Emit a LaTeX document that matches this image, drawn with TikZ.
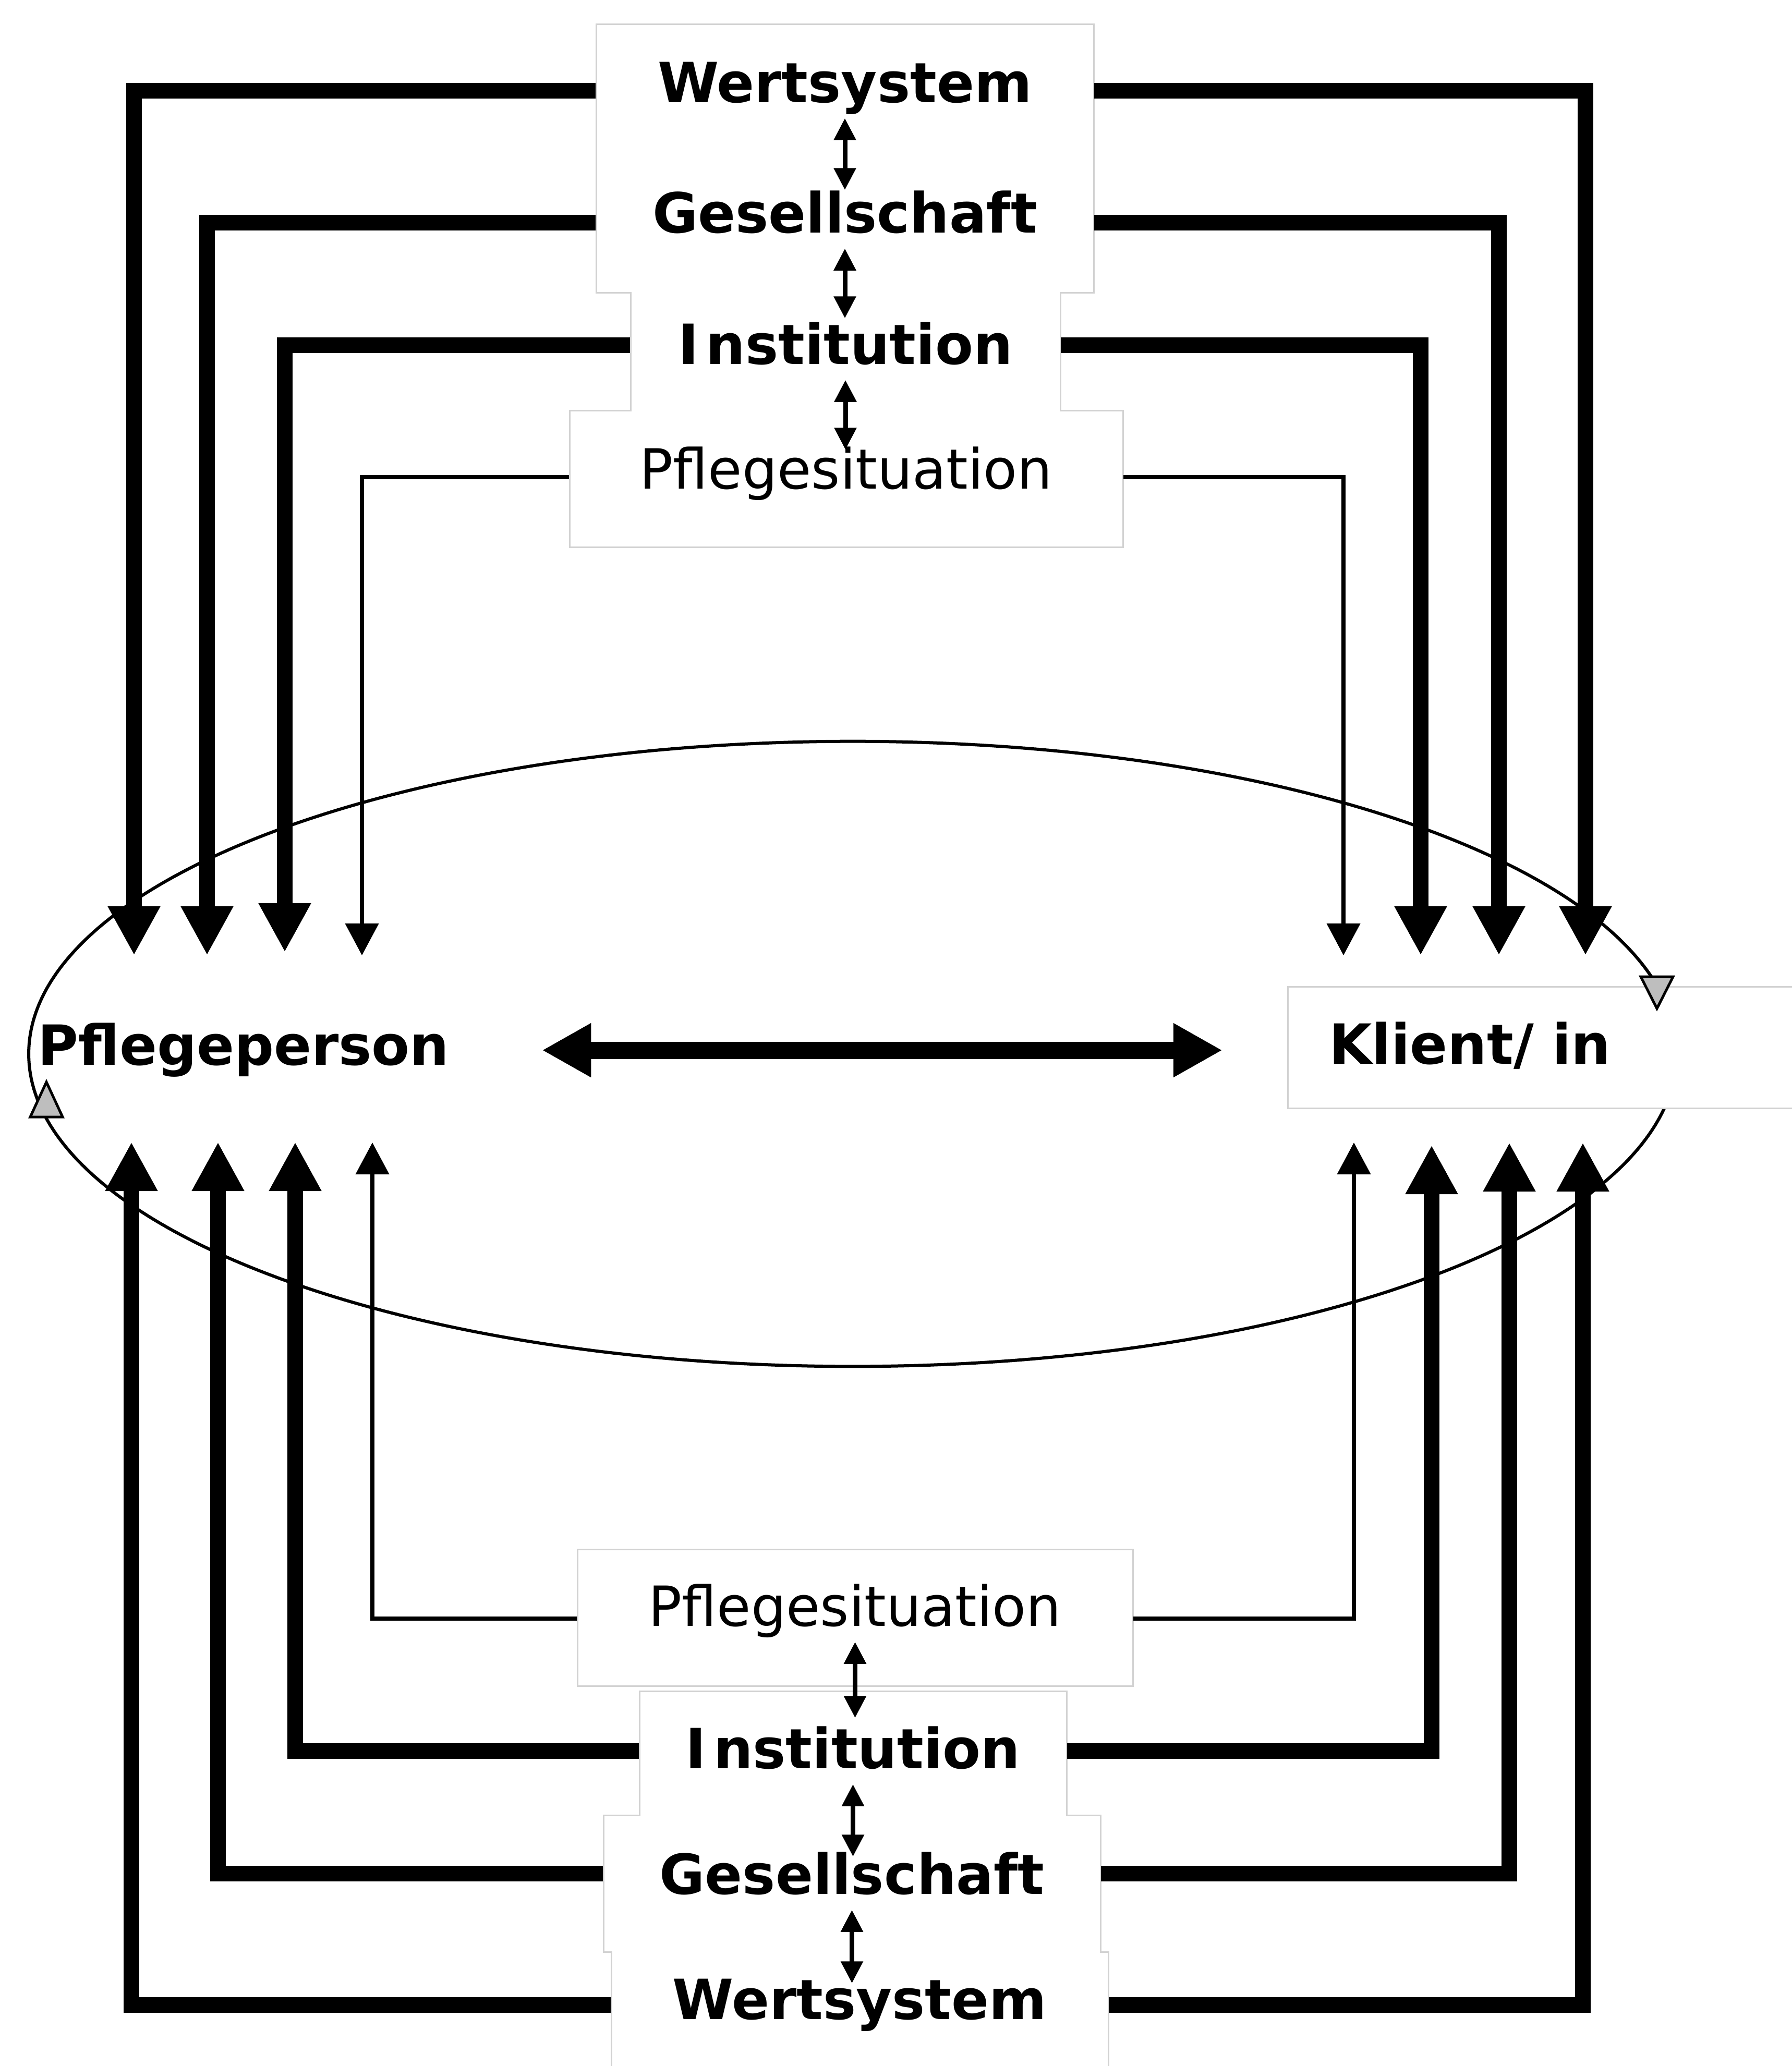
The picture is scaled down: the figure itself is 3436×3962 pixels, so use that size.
\documentclass[tikz,border=0pt]{standalone}
\usepackage{fontspec}
\setmainfont{DejaVu Sans}
\usetikzlibrary{arrows.meta}
\definecolor{boxgray}{HTML}{D2D2D2}
\definecolor{tipgray}{HTML}{BEBEBE}
\begin{document}
\begin{tikzpicture}[x=0.01cm,y=-0.01cm,
  every node/.style={inner sep=0pt},
  lvl/.style 2 args={minimum width=#1, text height=#2, text depth=0.30cm,
    font=\fontsize{30.2pt}{36pt}\selectfont\bfseries},
  lvn/.style 2 args={minimum width=#1, text height=#2, text depth=0.30cm,
    font=\fontsize{30.2pt}{36pt}\selectfont},
  thickarr/.style={line width=0.30cm, -{Triangle[length=0.94cm,width=0.94cm]}},
  thinarr/.style={line width=0.075cm, -{Triangle[length=0.61cm,width=0.63cm]}},
  smalldbl/.style={line width=0.09cm, {Triangle[length=0.42cm,width=0.41cm]}-{Triangle[length=0.42cm,width=0.41cm]}},
  bigdbl/.style={line width=0.33cm, {Triangle[length=0.94cm,width=0.97cm]}-{Triangle[length=0.94cm,width=0.97cm]}},
  boxline/.style={draw=boxgray, line width=0.03cm},
  marker/.style={fill=tipgray, draw=black, line width=0.05cm, line join=miter}]

\fill[white] (0,0) rectangle (3436,3962);
\useasboundingbox (0,0) rectangle (3436,3962);

% box outlines
\draw[boxline] (1143,46) -- (2097,46) -- (2097,561) -- (2033,561) -- (2033,787)
  -- (2153,787) -- (2153,1049) -- (1092,1049) -- (1092,787) -- (1209,787)
  -- (1209,561) -- (1143,561) -- cycle;
\draw[boxline] (1107,2971) rectangle (2172,3233);
\draw[boxline] (1172,4000) -- (1172,3743) -- (1157,3743) -- (1157,3481) -- (1226,3481)
  -- (1226,3243) -- (2045,3243) -- (2045,3481) -- (2110,3481) -- (2110,3743)
  -- (2125,3743) -- (2125,4000);

% ellipse
\draw[line width=0.06cm] (1635,2021) ellipse [x radius=15.79cm, y radius=5.99cm];

% top nodes
\node[lvl={9.54cm}{0.74cm}] (tW) at (1620,174) {Wertsystem};
\node[lvl={9.54cm}{0.68cm}] (tG) at (1620,427) {Gesellschaft};
\node[lvl={8.24cm}{1.02cm}] (tI) at (1621,662) {I\kern0.13em nstitution};
\node[lvn={10.61cm}{0.74cm}] (tP) at (1622.5,915) {Pflegesituation};

% bottom nodes
\node[lvn={10.65cm}{0.58cm}] (bP) at (1639.5,3104) {Pflegesituation};
\node[lvl={8.19cm}{0.96cm}] (bI) at (1635.5,3358) {I\kern0.13em nstitution};
\node[lvl={9.53cm}{1.08cm}] (bG) at (1633.5,3593) {Gesellschaft};
\node[lvl={9.53cm}{0.84cm}] (bW) at (1648.5,3845) {Wertsystem};

% middle nodes
\node[font=\fontsize{30.2pt}{36pt}\selectfont\bfseries, text height=0.86cm, text depth=0.30cm]
  (pp) at (467,2014) {Pflegeperson};
\node[font=\fontsize{30.2pt}{36pt}\selectfont\bfseries, anchor=west, draw=boxgray, fill=white,
  line width=0.03cm, text width=9cm, align=left, inner xsep=0.79cm, inner ysep=0.55cm,
  text height=0.92cm, text depth=0.30cm] (kl) at (2468,2009) {Klient/ in};

% ellipse direction markers
\draw[marker] (89,2075) -- (120,2142) -- (58,2142) -- cycle;
\draw[marker] (3177,1934) -- (3208,1873) -- (3146,1873) -- cycle;

% arrow end points
\coordinate (tWl) at (257,1832);  \coordinate (tWr) at (3040,1832);
\coordinate (tGl) at (397,1832);  \coordinate (tGr) at (2874,1832);
\coordinate (tIl) at (546,1826);  \coordinate (tIr) at (2724,1832);
\coordinate (tPl) at (694,1832);  \coordinate (tPr) at (2576,1832);
\coordinate (bWl) at (252,2190);  \coordinate (bWr) at (3035,2191);
\coordinate (bGl) at (418,2190);  \coordinate (bGr) at (2894,2191);
\coordinate (bIl) at (566,2190);  \coordinate (bIr) at (2745,2196);
\coordinate (bPl) at (714,2191);  \coordinate (bPr) at (2596,2191);

% top connectors
\draw[thickarr] (tW.west) -| (tWl);
\draw[thickarr] (tW.east) -| (tWr);
\draw[thickarr] (tG.west) -| (tGl);
\draw[thickarr] (tG.east) -| (tGr);
\draw[thickarr] (tI.west) -| (tIl);
\draw[thickarr] (tI.east) -| (tIr);
\draw[thinarr] (tP.west) -| (tPl);
\draw[thinarr] (tP.east) -| (tPr);

% bottom connectors
\draw[thickarr] (bW.west) -| (bWl);
\draw[thickarr] (bW.east) -| (bWr);
\draw[thickarr] (bG.west) -| (bGl);
\draw[thickarr] (bG.east) -| (bGr);
\draw[thickarr] (bI.west) -| (bIl);
\draw[thickarr] (bI.east) -| (bIr);
\draw[thinarr] (bP.west) -| (bPl);
\draw[thinarr] (bP.east) -| (bPr);

% small double arrows
\draw[smalldbl, shorten >=0.13cm] (tW.south) -- (tW.south |- tG.north);
\draw[smalldbl, shorten >=-0.15cm] (tG.south) -- (tG.south |- tI.north);
\draw[smalldbl] (tI.south) -- (tI.south |- tP.north);
\draw[smalldbl] (bP.south) -- (bP.south |- bI.north);
\draw[smalldbl, shorten >=-0.37cm] (bI.south) -- (bI.south |- bG.north);
\draw[smalldbl, shorten >=-0.16cm] (bG.south) -- (bG.south |- bW.north);

% central double arrow
\draw[bigdbl, shorten <=1.77cm, shorten >=1.24cm] (pp.east) -- (pp.east -| kl.west);
\end{tikzpicture}
\end{document}
